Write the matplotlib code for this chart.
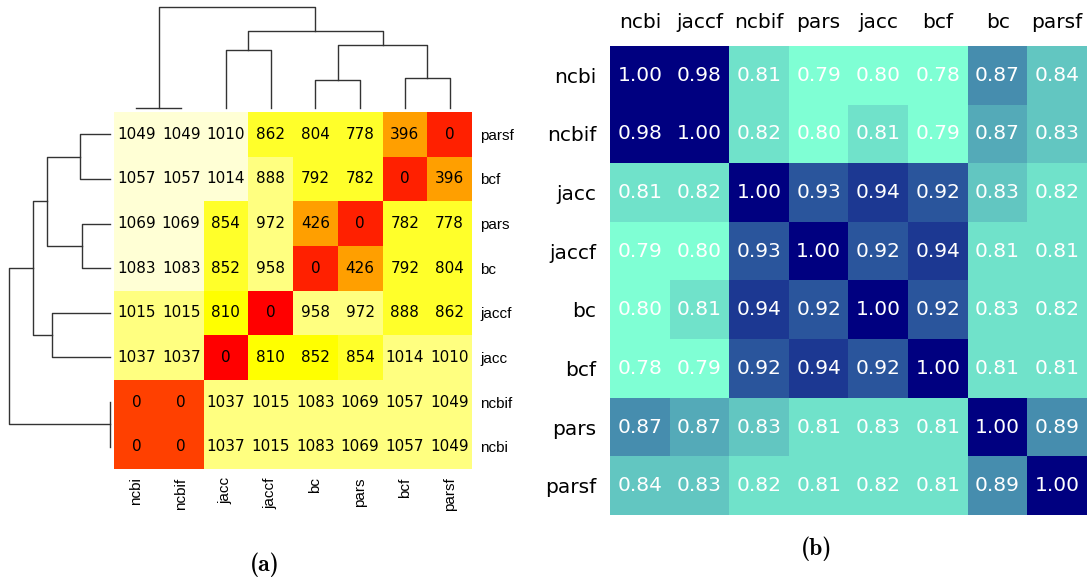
import os
import numpy as np
import matplotlib
matplotlib.use("Agg")
import matplotlib.pyplot as plt
from matplotlib.colors import ListedColormap, BoundaryNorm, LinearSegmentedColormap
from matplotlib.font_manager import FontProperties

# --- panel (a): distance matrix with hierarchical clustering ---
labels_a = ['ncbi', 'ncbif', 'jacc', 'jaccf', 'bc', 'pars', 'bcf', 'parsf']
dist_a = np.array([
    [0, 0, 1037, 1015, 1083, 1069, 1057, 1049],
    [0, 0, 1037, 1015, 1083, 1069, 1057, 1049],
    [1037, 1037, 0, 810, 852, 854, 1014, 1010],
    [1015, 1015, 810, 0, 958, 972, 888, 862],
    [1083, 1083, 852, 958, 0, 426, 792, 804],
    [1069, 1069, 854, 972, 426, 0, 782, 778],
    [1057, 1057, 1014, 888, 792, 782, 0, 396],
    [1049, 1049, 1010, 862, 804, 778, 396, 0],
])
# merges: (child a, child b, height); ids >= 8 are earlier merges
merges = [
    (0, 1, 0.0),
    (4, 5, 28.0),
    (6, 7, 30.0),
    (2, 3, 58.3),
    (9, 10, 63.3),
    (11, 12, 77.6),
    (8, 13, 101.0),
]

# --- panel (b): similarity matrix ---
rows_b = ['ncbi', 'ncbif', 'jacc', 'jaccf', 'bc', 'bcf', 'pars', 'parsf']
cols_b = ['ncbi', 'jaccf', 'ncbif', 'pars', 'jacc', 'bcf', 'bc', 'parsf']
sim_b = np.array([
    [1.00, 0.98, 0.81, 0.79, 0.80, 0.784, 0.872, 0.84],
    [0.98, 1.00, 0.82, 0.80, 0.81, 0.79, 0.868, 0.83],
    [0.81, 0.82, 1.00, 0.93, 0.94, 0.92, 0.83, 0.82],
    [0.79, 0.80, 0.93, 1.00, 0.92, 0.94, 0.81, 0.81],
    [0.80, 0.81, 0.94, 0.92, 1.00, 0.92, 0.826, 0.82],
    [0.784, 0.79, 0.92, 0.94, 0.92, 1.00, 0.81, 0.81],
    [0.872, 0.868, 0.83, 0.81, 0.826, 0.81, 1.00, 0.89],
    [0.84, 0.83, 0.82, 0.81, 0.82, 0.81, 0.89, 1.00],
])

W, H = 1087, 581
fig = plt.figure(figsize=(W / 100, H / 100), dpi=100)


def px_axes(x0, y0, x1, y1):
    return fig.add_axes([x0 / W, 1 - y1 / H, (x1 - x0) / W, (y1 - y0) / H])


def dendro(ax, vertical):
    n = len(labels_a)
    pos = {i: i + 0.5 for i in range(n)}
    hgt = {i: 0.0 for i in range(n)}
    for k, (a, b, h) in enumerate(merges):
        xs = [pos[a], pos[a], pos[b], pos[b]]
        ys = [hgt[a], h, h, hgt[b]]
        if vertical:
            ax.plot(ys, xs, color='#333333', lw=1.0, clip_on=False)
        else:
            ax.plot(xs, ys, color='#333333', lw=1.0, clip_on=False)
        pos[n + k] = (pos[a] + pos[b]) / 2
        hgt[n + k] = h
    ax.set_axis_off()


# heat.colors(12), rows scaled to z-scores
heat12 = ['#FF0000', '#FF2000', '#FF4000', '#FF6000', '#FF8000', '#FF9F00',
          '#FFBF00', '#FFDF00', '#FFFF00', '#FFFF2A', '#FFFF80', '#FFFFD5']
z = (dist_a - dist_a.mean(axis=1, keepdims=True)) / dist_a.std(axis=1, ddof=1, keepdims=True)
norm_a = BoundaryNorm(np.linspace(z.min(), z.max(), 13), 12)

ax_a = px_axes(114, 112, 472, 469)
ax_a.pcolormesh(z, cmap=ListedColormap(heat12), norm=norm_a)
for i in range(8):
    for j in range(8):
        ax_a.text(j + 0.5, i + 0.5, str(dist_a[i, j]), ha='center', va='center',
                  fontsize=11, family='DejaVu Sans', color='black')
ax_a.set_xlim(0, 8)
ax_a.set_ylim(0, 8)
ax_a.set_xticks(np.arange(8) + 0.5)
ax_a.set_xticklabels(labels_a, rotation=90, family='Liberation Sans', fontsize=11)
ax_a.set_yticks(np.arange(8) + 0.5)
ax_a.set_yticklabels(labels_a, family='Liberation Sans', fontsize=11)
ax_a.yaxis.tick_right()
ax_a.tick_params(length=0, pad=6)
for s in ax_a.spines.values():
    s.set_visible(False)

root = merges[-1][2]
ax_top = px_axes(114, 7.3, 472, 108.3)
dendro(ax_top, vertical=False)
ax_top.set_xlim(0, 8)
ax_top.set_ylim(0, root)

ax_left = px_axes(9.3, 112, 110.3, 469)
dendro(ax_left, vertical=True)
ax_left.set_ylim(0, 8)
ax_left.set_xlim(root, 0)

# panel (b)
cmap_b = LinearSegmentedColormap.from_list('aqua_navy', ['aquamarine', 'navy'], N=10)
ax_b = px_axes(610, 46, 1087, 515)
ax_b.imshow(sim_b, cmap=cmap_b, aspect='auto', interpolation='nearest')
for i in range(8):
    for j in range(8):
        ax_b.text(j, i, f'{sim_b[i, j]:.2f}', ha='center', va='center',
                  fontsize=14.5, color='white')
ax_b.set_xticks(range(8))
ax_b.set_xticklabels(cols_b, fontsize=14.5)
ax_b.set_yticks(range(8))
ax_b.set_yticklabels(rows_b, fontsize=14.5)
ax_b.xaxis.tick_top()
ax_b.tick_params(length=0, pad=10)
for s in ax_b.spines.values():
    s.set_visible(False)

# sub-figure captions in Computer Modern bold
cm_bold = FontProperties(fname=os.path.join(matplotlib.get_data_path(), 'fonts', 'ttf', 'cmb10.ttf'), size=17)
fig.text(265 / W, 1 - 565 / H, '(a)', ha='center', va='center', fontproperties=cm_bold)
fig.text(817 / W, 1 - 549 / H, '(b)', ha='center', va='center', fontproperties=cm_bold)

fig.savefig('out.png', dpi=100)
